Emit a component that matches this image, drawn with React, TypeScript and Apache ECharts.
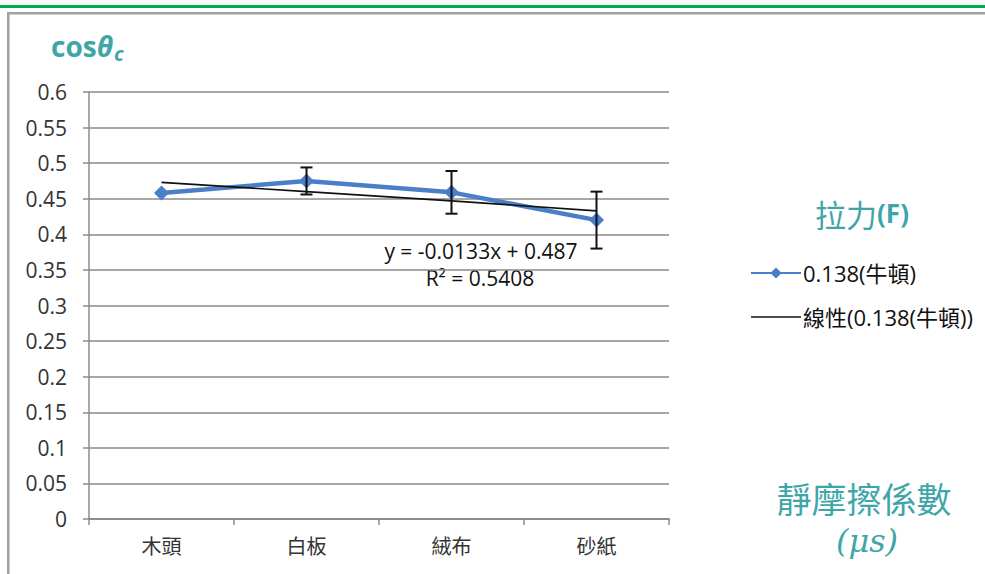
import React, { useEffect, useRef } from "react";
import * as echarts from "echarts";

const categories = ["木頭", "白板", "絨布", "砂紙"];
const seriesName = "0.138(牛頓)";
const trendName = "線性(0.138(牛頓))";
const values = [0.458, 0.475, 0.459, 0.42];
const errors = [0, 0.019, 0.03, 0.04];
const trendValues = [0.473, 0.46, 0.447, 0.433];
const equationText = "y = -0.0133x + 0.487";
const r2Text = "R² = 0.5408";

const TEAL = "#3ea6a8";
const FONT = "'Open Sans', 'Noto Sans', 'Noto Sans CJK TC', sans-serif";

export default function App() {
  const ref = useRef<HTMLDivElement>(null);
  useEffect(() => {
    document.body.style.margin = "0";
    const chart = echarts.init(ref.current!, null, { renderer: "svg" });
    const errData = values.map((v, i) => [i, v - errors[i], v + errors[i]]);
    chart.setOption({
      animation: false,
      backgroundColor: "#ffffff",
      textStyle: { fontFamily: FONT },
      grid: { left: 89, right: 316, top: 92, bottom: 55, containLabel: false },
      xAxis: {
        type: "category",
        data: categories,
        boundaryGap: true,
        axisLine: { lineStyle: { color: "#8c8c8c", width: 2 } },
        axisTick: { show: true, length: 6, lineStyle: { color: "#8c8c8c", width: 1.5 } },
        axisLabel: { color: "#333", fontSize: 20, margin: 17, fontFamily: FONT },
      },
      yAxis: {
        type: "value",
        min: 0,
        max: 0.6,
        interval: 0.05,
        axisLine: { show: true, lineStyle: { color: "#8c8c8c", width: 1.5 } },
        axisTick: { show: true, length: 6, lineStyle: { color: "#8c8c8c", width: 1.5 } },
        axisLabel: { color: "#333", fontSize: 21, margin: 22, fontFamily: FONT },
        splitLine: { lineStyle: { color: "#8a8a8a", width: 1.6 } },
      },
      legend: {
        orient: "vertical",
        left: 745,
        top: 257,
        itemWidth: 50,
        itemHeight: 14,
        itemGap: 22,
        textStyle: { color: "#111", fontSize: 22, fontFamily: FONT, padding: [0, 0, 0, -3] },
        data: [
          { name: seriesName },
          { name: trendName, icon: "path://M0,0 L100,0 L100,3 L0,3 Z", itemStyle: { color: "#111" } },
        ],
      },
      series: [
        {
          name: seriesName,
          type: "line",
          data: values,
          symbol: "diamond",
          symbolSize: 15,
          lineStyle: { color: "#4a7fc8", width: 4.5 },
          itemStyle: { color: "#4a7fc8" },
          z: 3,
        },
        {
          name: trendName,
          type: "line",
          data: trendValues,
          symbol: "none",
          lineStyle: { color: "#111", width: 1.6 },
          itemStyle: { color: "#111" },
          z: 4,
        },
        {
          type: "custom",
          name: "err",
          data: errData,
          z: 5,
          renderItem: (params: any, api: any) => {
            const x = api.value(0);
            const lo = api.coord([x, api.value(1)]);
            const hi = api.coord([x, api.value(2)]);
            if (Math.abs(hi[1] - lo[1]) < 1) return { type: "group", children: [] };
            const hw = 6;
            const style = { stroke: "#111", lineWidth: 2 };
            return {
              type: "group",
              children: [
                { type: "line", shape: { x1: lo[0], y1: lo[1], x2: hi[0], y2: hi[1] }, style },
                { type: "line", shape: { x1: hi[0] - hw, y1: hi[1], x2: hi[0] + hw, y2: hi[1] }, style },
                { type: "line", shape: { x1: lo[0] - hw, y1: lo[1], x2: lo[0] + hw, y2: lo[1] }, style },
              ],
            };
          },
        },
      ],
      graphic: [
        { type: "rect", shape: { x: 0, y: 5, width: 985, height: 3 }, style: { fill: "#00aa4f" } },
        { type: "rect", shape: { x: 7, y: 12, width: 978, height: 2.5 }, style: { fill: "#a0a0a0" } },
        { type: "rect", shape: { x: 7, y: 12, width: 2.5, height: 562 }, style: { fill: "#a0a0a0" } },
        {
          type: "text",
          x: 51,
          y: 28,
          style: {
            text: "{a|cos}{b|θ}{c|c}",
            rich: {
              a: { fontSize: 28, fontWeight: "bold", fill: TEAL, fontFamily: FONT },
              b: { fontSize: 28, fontWeight: "bold", fontStyle: "italic", fill: TEAL, fontFamily: FONT },
              c: { fontSize: 20, fontWeight: "bold", fontStyle: "italic", fill: TEAL, fontFamily: FONT, padding: [16, 0, 0, 1] },
            },
          },
        },
        {
          type: "text",
          x: 481,
          y: 251,
          style: { text: equationText, fontSize: 21, fill: "#111", fontFamily: FONT, align: "center", verticalAlign: "middle" },
        },
        {
          type: "text",
          x: 480,
          y: 278,
          style: { text: r2Text, fontSize: 21, fill: "#111", fontFamily: FONT, align: "center", verticalAlign: "middle" },
        },
        {
          type: "text",
          x: 862,
          y: 213,
          style: {
            text: "{a|拉力}{b|(F)}",
            align: "center",
            verticalAlign: "middle",
            rich: {
              a: { fontSize: 31, fill: TEAL, fontFamily: "'Noto Sans CJK TC', sans-serif" },
              b: { fontSize: 26, fontWeight: "bold", fill: TEAL, fontFamily: FONT },
            },
          },
        },
        {
          type: "text",
          x: 864,
          y: 497,
          style: { text: "靜摩擦係數", fontSize: 35, fill: TEAL, fontFamily: "'Noto Sans CJK TC', sans-serif", align: "center", verticalAlign: "middle" },
        },
        {
          type: "text",
          x: 867,
          y: 541,
          style: {
            text: "(μs)",
            fontSize: 32,
            fontStyle: "italic",
            fill: TEAL,
            fontFamily: "'DejaVu Serif', serif",
            align: "center",
            verticalAlign: "middle",
          },
        },
      ],
    });
    return () => chart.dispose();
  }, []);
  return <div ref={ref} style={{ position: "fixed", left: 0, top: 0, width: 985, height: 574 }} />;
}
